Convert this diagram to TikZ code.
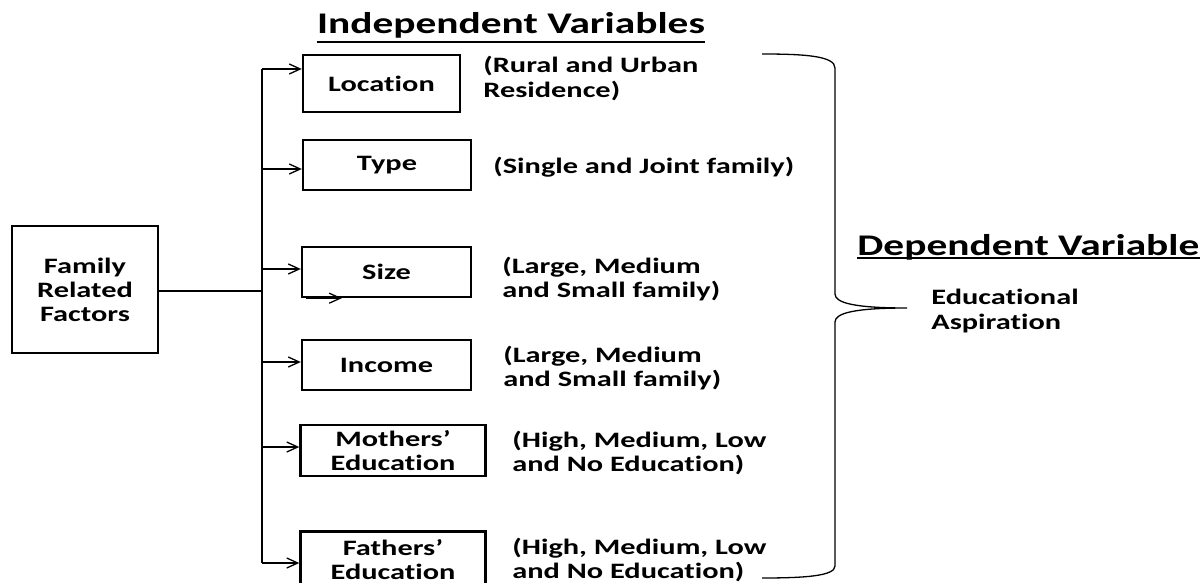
\documentclass[tikz,border=0pt]{standalone}
\usepackage{fontspec}
\newfontfamily\cf[FakeStretch=1.38,Ligatures=NoCommon]{Carlito}
\usetikzlibrary{arrows.meta,calc}
\tikzset{
  box/.style={draw, line width=1.2pt, inner sep=0pt, align=center,
    font=\cf\bfseries\fontsize{11}{12}\selectfont},
  desc/.style={anchor=west, inner sep=0pt, align=left,
    font=\cf\bfseries\fontsize{11}{12.4}\selectfont},
  head/.style={inner sep=0pt, font=\cf\bfseries\fontsize{15}{16}\selectfont},
  conn/.style={line width=0.65pt},
  arr/.style={conn, -{Straight Barb[length=5.5pt,width=5pt]}},
  brace/.style={line width=0.65pt}
}
\begin{document}
\begin{tikzpicture}[x=0.5pt,y=-0.5pt]
\clip (0,0) rectangle (1201,583);
% titles
\node[head] (ind) at (511,25) {Independent Variables};
\draw[line width=1pt] (ind.south west |- 0,42) -- (ind.south east |- 0,42);
\node[head, anchor=west] (dep) at (857,247) {Dependent Variable};
\draw[line width=1pt] (dep.south west |- 0,258) -- (dep.south east |- 0,258);
% boxes
\node[box, minimum width=73pt, minimum height=63.5pt] (frf) at (85,289.5) {Family\\Related\\Factors};
\node[box, minimum width=78.5pt, minimum height=28.5pt] (loc) at (381.5,83.5) {Location};
\node[box, minimum width=84pt, minimum height=25pt] (typ) at (387,165) {Type};
\node[box, minimum width=84.5pt, minimum height=25pt] (siz) at (386.5,272) {Size};
\node[box, minimum width=84.5pt, minimum height=25pt] (inc) at (386.5,365) {Income};
\node[box, minimum width=92.5pt, minimum height=25.5pt] (mot) at (393,450.5) {Mothers’\\Education};
\node[box, minimum width=92.5pt, minimum height=28.5pt] (fat) at (393,560) {Fathers’\\Education};
% descriptions
\node[desc] (d1) at (483,78.5) {(Rural and Urban\\Residence)};
\node[desc] (d2) at (493,167) {(Single and Joint family)};
\node[desc] (d3) at (502,279) {(Large, Medium\\and Small family)};
\node[desc] (d4) at (503,368) {(Large, Medium\\and Small family)};
\node[desc] (d5) at (512,453) {(High, Medium, Low\\and No Education)};
\node[desc] (d6) at (512,560) {(High, Medium, Low\\and No Education)};
\node[desc] (ea) at (931,311) {Educational\\Aspiration};
% trunk and arrows
\coordinate (t1) at (262,69);
\coordinate (t2) at (262,169);
\coordinate (t3) at (262,269);
\coordinate (t4) at (262,362);
\coordinate (t5) at (262,447);
\coordinate (t6) at (262,563);
\draw[conn] (frf.east |- 0,291) -- (t3 |- 0,291);
\draw[conn] (t1) -- (t6);
\draw[arr] (t1) -- (t1 -| loc.west);
\draw[arr] (t2) -- (t2 -| typ.west);
\draw[arr] (t3) -- (t3 -| siz.west);
\draw[arr] (t4) -- (t4 -| inc.west);
\draw[arr] (t5) -- (t5 -| mot.west);
\draw[arr] (t6) -- (t6 -| fat.west);
\draw[arr] ($(siz.south west)+(5,0)$) -- ($(siz.south west)+(41,0)$);
% brace
\coordinate (b1) at (762,54);
\coordinate (tip) at (907,308);
\coordinate (b2) at (762,578);
\draw[brace] (b1) .. controls (805,54) and (835,56) .. (835,68) -- (835,294)
  .. controls (835,303) and (855,308) .. (tip)
  .. controls (855,308) and (835,313) .. (835,322) -- (835,566)
  .. controls (835,576) and (805,578) .. (b2);
\end{tikzpicture}
\end{document}
